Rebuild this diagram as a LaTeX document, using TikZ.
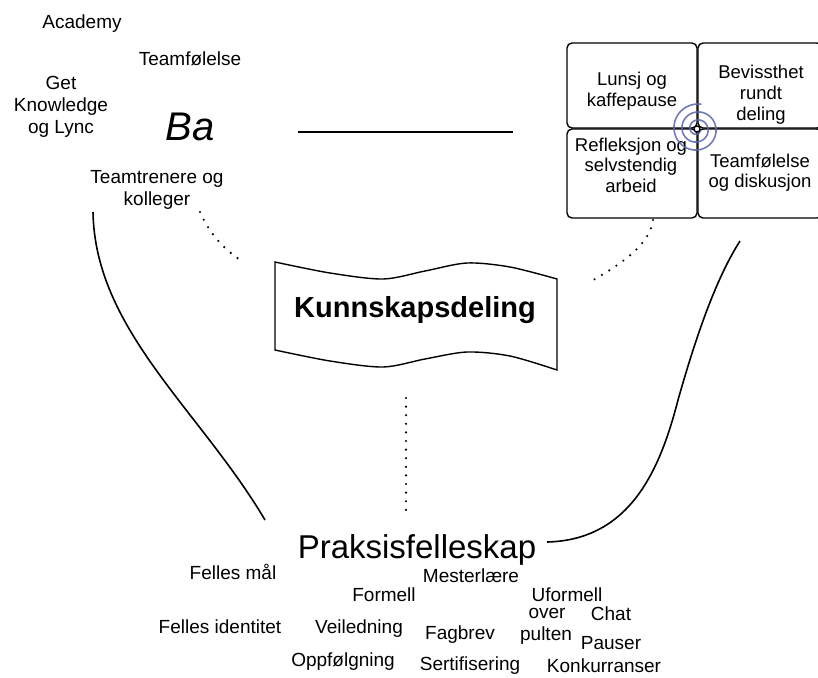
\documentclass[tikz,border=0pt]{standalone}
\usepackage{fontspec}
\setmainfont{Liberation Sans}
\begin{document}
\begin{tikzpicture}[x=1pt, y=-1pt,
  lbl/.style={anchor=base, align=center, inner sep=0pt, font=\fontsize{19}{22}\selectfont},
  cell/.style={draw, line width=1.4pt, rounded corners=5pt, inner sep=0pt},
  curv/.style={line width=1.6pt},
  dotl/.style={line width=2.4pt, line cap=round, dash pattern=on 0pt off 8.6pt},
  swirl/.style={line width=1.6pt, color={rgb,255:red,88;green,100;blue,170}, opacity=0.85}]

\useasboundingbox (0,0) rectangle (818,677);
\clip (0,0) rectangle (818,677);

\node[lbl] (academy) at (82,29) {Academy};
\node[lbl] (teamfol) at (190,65) {Teamfølelse};
\node[lbl] (getkn) at (61,133) {Get\\Knowledge\\og Lync};
\node[lbl, font=\fontsize{40}{44}\selectfont\itshape] (ba) at (190,140) {Ba};
\node[lbl] (trenere) at (157,205) {Teamtrenere og\\kolleger};

\node[cell, minimum width=130pt, minimum height=85pt] (lunsjbox) at (632,85.5) {};
\node[cell, minimum width=124pt, minimum height=85pt] (bevbox) at (760,85.5) {};
\node[cell, minimum width=130pt, minimum height=89pt] (reflbox) at (632,173.5) {};
\node[cell, minimum width=124pt, minimum height=89pt] (teambox) at (760,173.5) {};

\node[lbl, font=\fontsize{18.5}{20.5}\selectfont] (lunsj) at (632,106) {Lunsj og\\kaffepause};
\node[lbl, font=\fontsize{18.5}{21}\selectfont] (bev) at (761,120) {Bevissthet\\rundt\\deling};
\node[lbl, font=\fontsize{18.5}{20.5}\selectfont] (refl) at (631,192) {Refleksjon og\\selvstendig\\arbeid};
\node[lbl, font=\fontsize{18.5}{20}\selectfont] (teamdisk) at (760,187) {Teamfølelse\\og diskusjon};

\draw[swirl] plot[domain=0:1000, samples=160, smooth] ({697+(3+\x/45)*cos(\x)}, {129+(3+\x/45)*sin(\x)});
\node[circle, draw, line width=1.3pt, fill=white, minimum size=6pt, inner sep=0pt] (midpt) at (697,129) {};

\draw[line width=1.4pt, fill=white]
  plot[smooth] coordinates {(275,262) (330,273) (383,279) (425,271) (467,263) (510,267) (557,279)}
  -- (557,370)
  -- plot[smooth] coordinates {(557,370) (510,356) (467,352) (425,359) (383,367) (330,361) (275,350)}
  -- cycle;
\node[lbl, font=\fontsize{29}{32}\selectfont\bfseries] (deling) at (415,317) {Kunnskapsdeling};

\node[lbl, font=\fontsize{33}{36}\selectfont] (praksis) at (417,558) {Praksisfelleskap};
\node[lbl] (fmaal) at (233,579) {Felles mål};
\node[lbl] (mester) at (471,582) {Mesterlære};
\node[lbl] (formell) at (384,601) {Formell};
\node[lbl] (uformell) at (567,601) {Uformell};
\node[lbl] (over) at (547,618) {over};
\node[lbl] (chat) at (611,620) {Chat};
\node[lbl] (fident) at (220,633) {Felles identitet};
\node[lbl] (veil) at (359,633) {Veiledning};
\node[lbl] (fagbrev) at (460,639) {Fagbrev};
\node[lbl] (pulten) at (546,640) {pulten};
\node[lbl] (pauser) at (611,649) {Pauser};
\node[lbl] (oppf) at (343,666) {Oppfølgning};
\node[lbl] (sert) at (470,670) {Sertifisering};
\node[lbl] (konk) at (604,672) {Konkurranser};

\coordinate (baR) at (298,132);
\coordinate (boxL) at (513,132);
\coordinate (baDown) at (93,212);
\coordinate (prL) at (265,520);
\coordinate (boxDown) at (740,241);
\coordinate (prR) at (547,542);
\coordinate (trDot) at (200,212);
\coordinate (delNW) at (243,262);
\coordinate (reflDot) at (653,220);
\coordinate (delNE) at (588,283);
\coordinate (delS) at (406,398);
\coordinate (prN) at (406,518);

\draw[line width=1.8pt] (baR) -- (boxL);
\draw[curv] (baDown) .. controls (95,330) and (200,410) .. (prL);
\draw[curv] (boxDown) .. controls (715,280) and (695,340) .. (678,400) .. controls (660,470) and (630,540) .. (prR);
\draw[dotl] (trDot) .. controls (210,235) and (225,250) .. (delNW);
\draw[dotl] (reflDot) .. controls (650,245) and (620,265) .. (delNE);
\draw[dotl] (delS) -- (prN);

\end{tikzpicture}
\end{document}
